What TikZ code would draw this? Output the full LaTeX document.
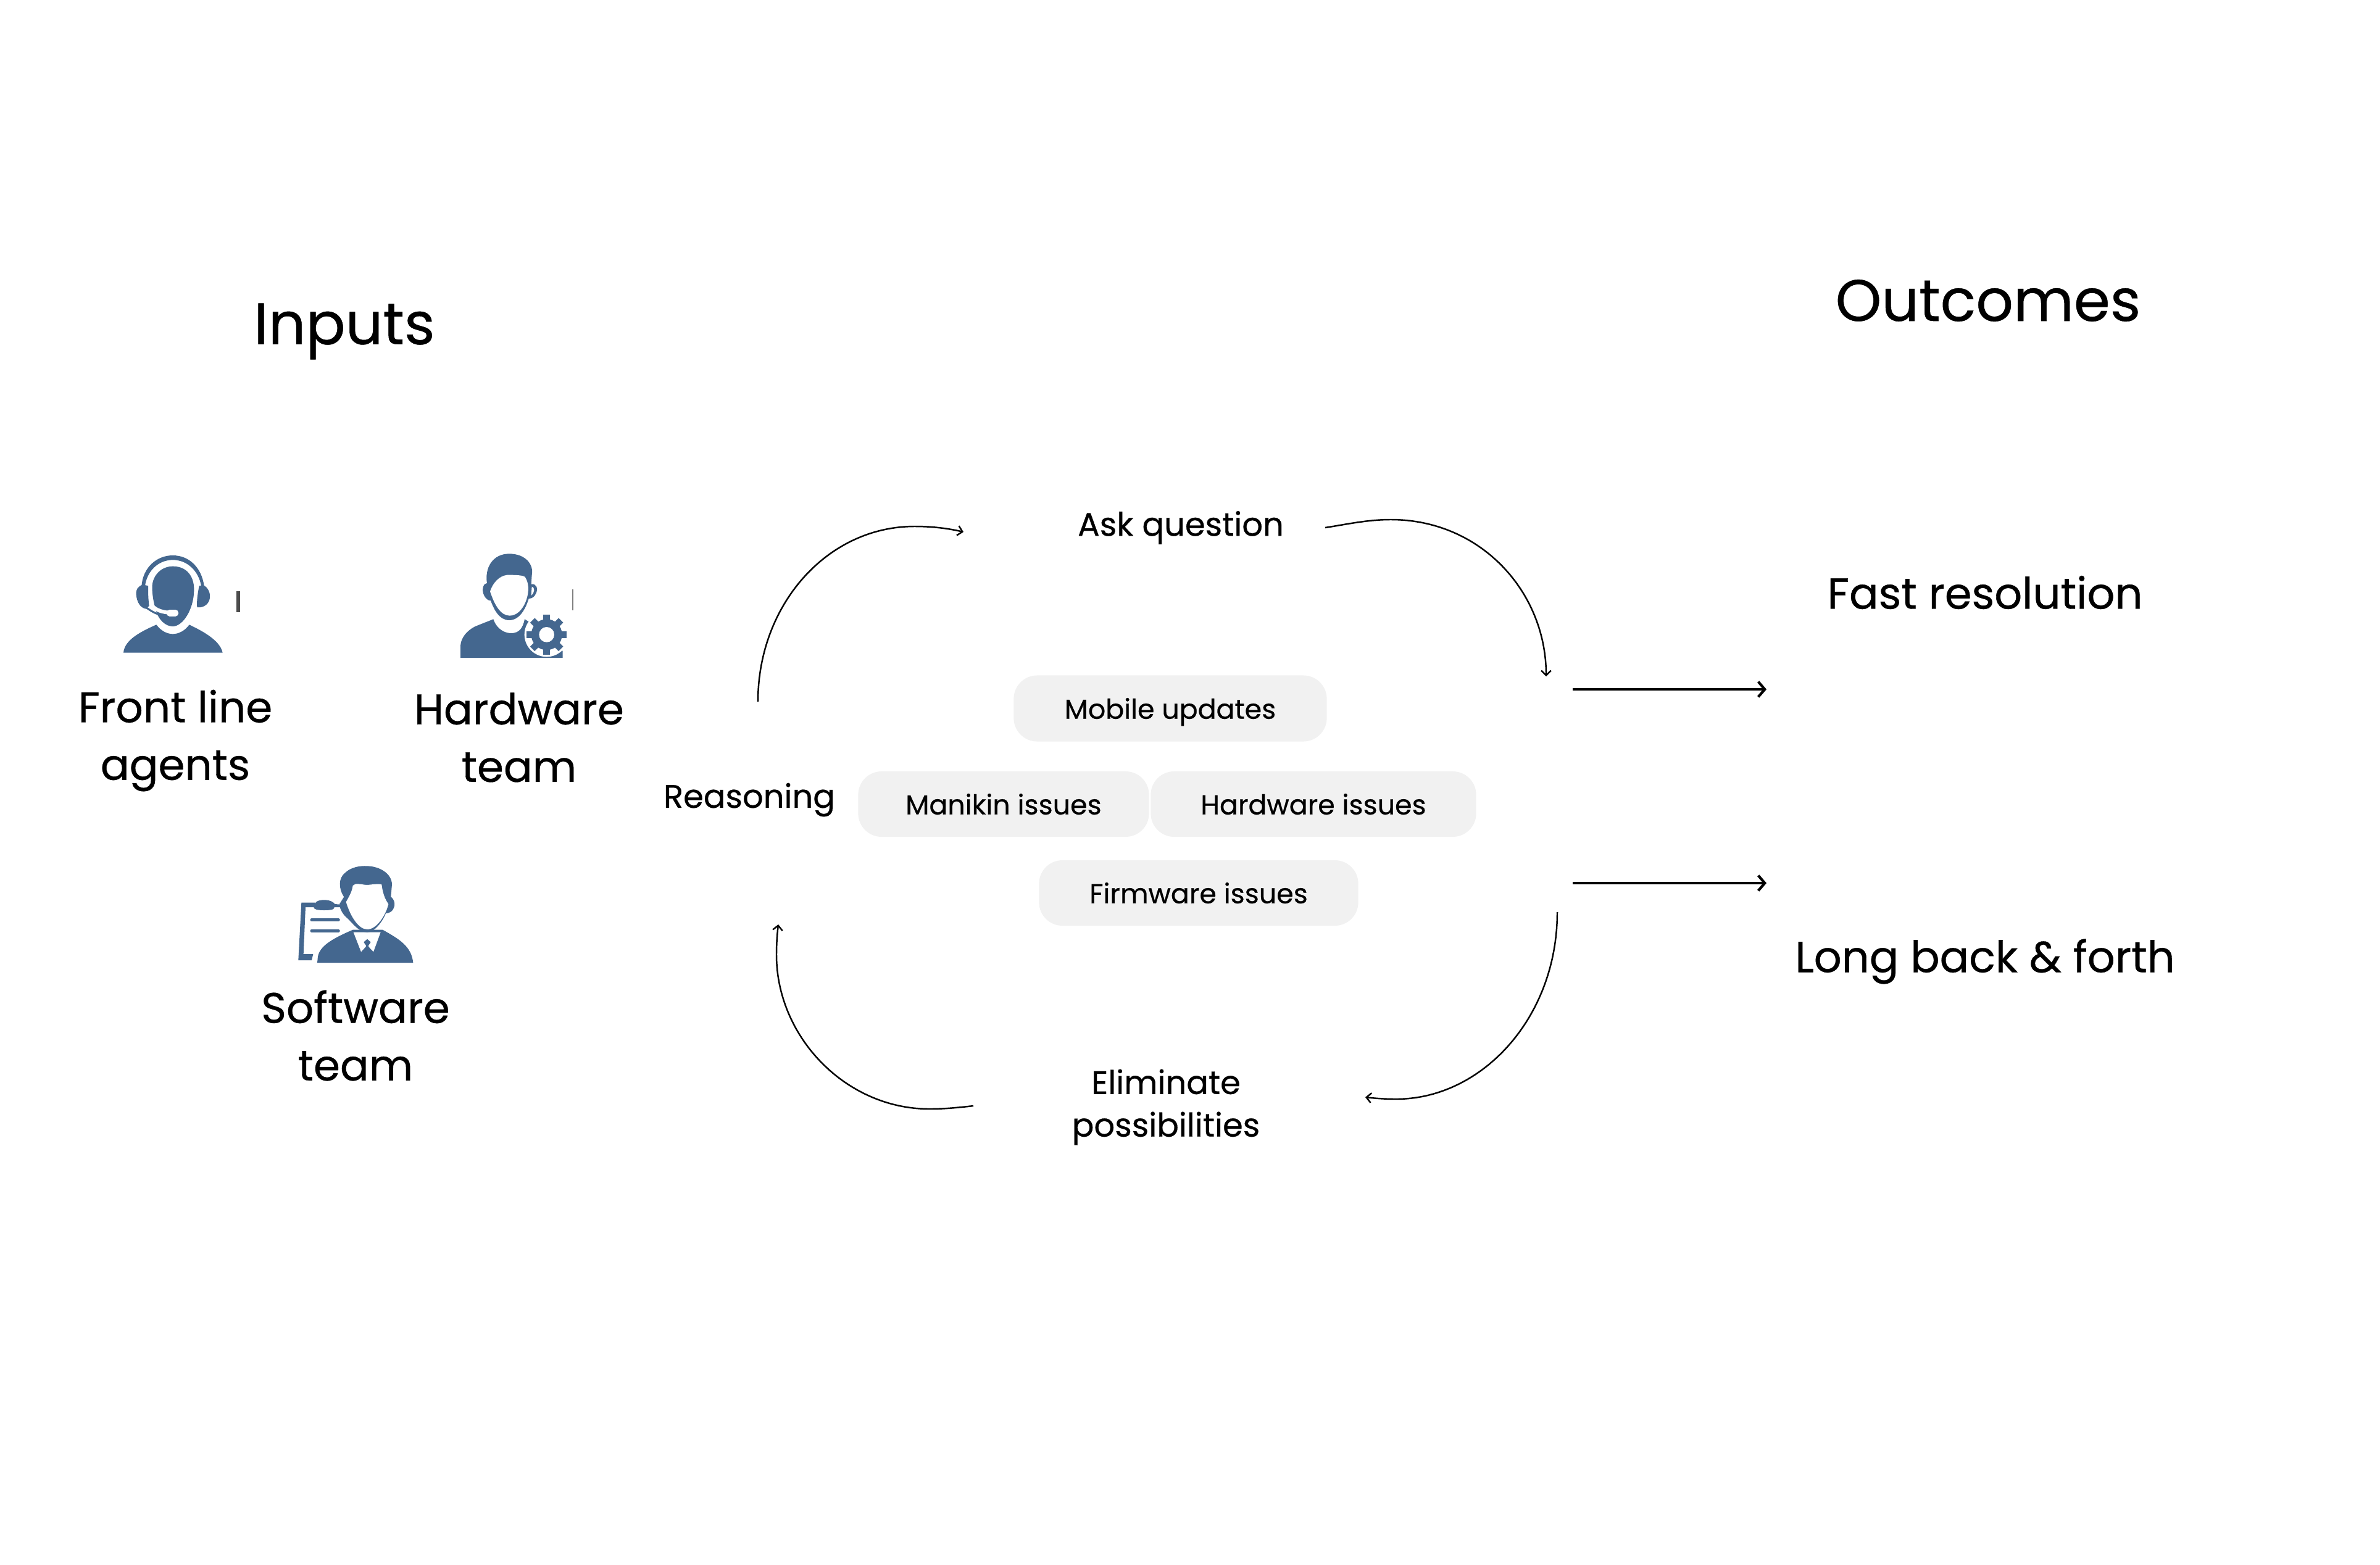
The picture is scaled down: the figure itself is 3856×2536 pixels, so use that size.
\documentclass[tikz,border=0pt]{standalone}
\usepackage{fontspec}
\setmainfont{Poppins}[FakeBold=0.5]
\usetikzlibrary{arrows.meta}
\definecolor{iconblue}{HTML}{44678F}
\definecolor{chipgrey}{HTML}{F1F1F1}
\newcommand{\gearteeth}{%
  \foreach \ang in {0,45,...,315} {\draw[iconblue,line width=3pt] (437,415) -- ++(\ang:98);}
}
\tikzset{
  headtext/.style={font=\fontsize{27}{33}\selectfont},
  roletext/.style={align=center,font=\fontsize{19.7}{26.5}\selectfont},
  resulttext/.style={font=\fontsize{20}{26}\selectfont},
  looptext/.style={align=center,font=\fontsize{15}{19.6}\selectfont},
  chipbox/.style={fill=chipgrey,rounded corners=10.8pt,inner sep=0pt,text height=10.5pt,text depth=1pt,font=\fontsize{12.6}{16}\selectfont},
  looparc/.style={line width=0.7pt,-{Straight Barb[length=2.2pt,width=4.5pt]}},
  flowarrow/.style={line width=1.2pt,-{Straight Barb[length=3pt,width=7pt]}},
  iconpart/.style={fill=iconblue,draw=none},
  iconcut/.style={fill=white,draw=none},
}
\begin{document}
\begin{tikzpicture}[x=0.01cm,y=-0.01cm]
  \useasboundingbox (0,0) rectangle (3856,2536);
  % headings
  \node[headtext] (inputs) at (558,537) {Inputs};
  \node[headtext] (outcomes) at (3221,487) {Outcomes};
  \node[resulttext] (fast) at (3216,960) {Fast resolution};
  \node[resulttext] (longback) at (3216,1558) {Long back \& forth};
  % roles
  \node[roletext] (frontline) at (284,1200) {Front line\\agents};
  \node[roletext] (hardware) at (841,1195) {Hardware\\team};
  \node[roletext] (software) at (576,1678) {Software\\team};
  % loop labels
  \node[looptext] (reasoning) at (1214,1296) {Reasoning};
  \node[looptext] (ask) at (1913,855) {Ask question};
  \node[looptext] (eliminate) at (1889,1794) {Eliminate\\possibilities};
  % chips
  \node[chipbox,minimum width=5.07cm,minimum height=1.07cm] (mobile) at (1896,1148) {Mobile updates};
  \node[chipbox,minimum width=4.71cm,minimum height=1.06cm] (manikin) at (1626,1303) {Manikin issues};
  \node[chipbox,minimum width=5.27cm,minimum height=1.06cm] (hardwareissues) at (2128,1303) {Hardware issues};
  \node[chipbox,minimum width=5.17cm,minimum height=1.06cm] (firmware) at (1942,1447) {Firmware issues};
  % loop arcs
  \coordinate (arcAa) at (1228,1137);
  \coordinate (arcAb) at (1561,862);
  \coordinate (arcBa) at (2147,855);
  \coordinate (arcBb) at (2505,1096);
  \coordinate (arcCa) at (2523,1478);
  \coordinate (arcCb) at (2212,1778);
  \coordinate (arcDa) at (1577,1792);
  \coordinate (arcDb) at (1261,1498);
  \draw[looparc] (arcAa) .. controls (1228,980) and (1340,853) .. (1482,853) .. controls (1510,853) and (1535,856) .. (arcAb);
  \draw[looparc] (arcBa) .. controls (2180,850) and (2215,842) .. (2253,842) .. controls (2400,842) and (2505,960) .. (arcBb);
  \draw[looparc] (arcCa) .. controls (2523,1650) and (2400,1781) .. (2262,1781) .. controls (2245,1781) and (2230,1780) .. (arcCb);
  \draw[looparc] (arcDa) .. controls (1550,1795) and (1530,1797) .. (1506,1797) .. controls (1370,1797) and (1258,1680) .. (1258,1547) .. controls (1258,1530) and (1259,1515) .. (arcDb);
  % outcome arrows
  \coordinate (flowAa) at (2548,1117);
  \coordinate (flowAb) at (2862,1117);
  \coordinate (flowBa) at (2548,1431);
  \coordinate (flowBb) at (2862,1431);
  \draw[flowarrow] (flowAa) -- (flowAb);
  \draw[flowarrow] (flowBa) -- (flowBb);
  % headset icon
  \begin{scope}[shift={(190,890)},scale=1/3]
    \path[iconpart] (30,503) .. controls (35,450) and (90,410) .. (190,367) .. controls (215,400) and (245,412) .. (270,412) .. controls (300,412) and (330,395) .. (350,367) .. controls (420,400) and (500,445) .. (512,503) -- cycle;
    \path[iconpart] (270,83) .. controls (340,83) and (375,135) .. (373,200) .. controls (372,290) and (320,375) .. (270,375) .. controls (235,375) and (200,345) .. (185,290) .. controls (175,250) and (168,210) .. (170,175) .. controls (175,125) and (215,83) .. (270,83) -- cycle;
    \path[iconpart] (118,178) .. controls (125,90) and (190,30) .. (270,30) .. controls (350,30) and (410,90) .. (422,178) -- (408,178) .. controls (395,105) and (340,52) .. (270,52) .. controls (200,52) and (145,105) .. (135,178) -- cycle;
    \path[iconpart] (125,172) .. controls (100,180) and (90,195) .. (92,220) .. controls (95,255) and (110,285) .. (140,290) -- (155,275) .. controls (150,240) and (150,205) .. (150,178) -- cycle;
    \path[iconpart] (398,178) -- (420,175) .. controls (445,190) and (452,215) .. (450,235) .. controls (448,265) and (420,287) .. (388,282) .. controls (385,250) and (392,210) .. (398,178) -- cycle;
    \draw[white,line width=1.7pt] (165,270) .. controls (185,295) and (215,305) .. (250,308);
    \draw[iconblue,line width=0.85pt] (140,283) .. controls (170,305) and (200,322) .. (245,325);
    \draw[white,line width=3pt,line cap=round] (255,310) -- (282,310);
    \path[fill=black!70] (578,205) rectangle (596,305);
  \end{scope}
  % engineer icon
  \begin{scope}[shift={(740,890)},scale=1/3]
    \path[iconpart] (18,528) -- (18,470) .. controls (20,430) and (50,395) .. (90,375) -- (178,340) .. controls (195,390) and (235,410) .. (270,408) .. controls (300,405) and (320,390) .. (330,340) -- (355,355) -- (515,495) -- (515,528) -- cycle;
    \path[iconcut] (437,415) circle (108);
    \gearteeth
    \path[iconpart] (437,415) circle (75);
    \path[iconcut] (437,415) circle (37);
    \path[iconpart] (147,165) .. controls (135,90) and (175,22) .. (255,22) .. controls (335,22) and (375,75) .. (365,125) -- (362,170) .. controls (385,165) and (398,190) .. (385,215) .. controls (378,232) and (365,240) .. (350,240) .. controls (335,290) and (305,345) .. (255,345) .. controls (205,345) and (180,290) .. (165,250) .. controls (140,250) and (120,210) .. (128,185) .. controls (132,170) and (140,165) .. (147,165) -- cycle;
    \path[iconcut] (162,205) .. controls (175,165) and (205,130) .. (245,125) .. controls (280,125) and (320,125) .. (332,135) .. controls (345,155) and (352,185) .. (345,220) .. controls (335,275) and (300,323) .. (258,323) .. controls (215,323) and (185,275) .. (162,205) -- cycle;
    \path[iconcut] (365,182) .. controls (380,185) and (380,210) .. (362,225) -- cycle;
    \path[fill=gray] (562,195) rectangle (568,298);
  \end{scope}
  % clipboard icon
  \begin{scope}[shift={(470,1390)},scale=1/3]
    \path[iconpart] (120,218) -- (55,218) -- (40,498) -- (105,498) -- (112,468) -- (65,468) -- (75,240) -- (120,240) -- cycle;
    \path[iconpart] (115,240) .. controls (115,215) and (135,205) .. (165,205) .. controls (195,205) and (210,215) .. (218,225) -- (255,228) -- (250,240) -- (215,240) .. controls (215,250) and (205,255) .. (165,255) .. controls (130,255) and (115,250) .. (115,240) -- cycle;
    \draw[iconblue,line width=1.4pt,line cap=round] (105,302) -- (235,302);
    \draw[iconblue,line width=1.4pt,line cap=round] (105,355) -- (235,355);
    \path[iconpart] (132,510) -- (135,480) .. controls (145,430) and (200,395) .. (305,350) -- (450,350) .. controls (530,395) and (590,430) .. (598,510) -- cycle;
    \path[iconcut] (308,362) -- (345,457) -- (375,425) -- (405,457) -- (440,362) -- cycle;
    \path[iconpart] (375,395) -- (392,410) -- (380,428) -- (395,462) -- (355,462) -- (370,428) -- (358,410) -- cycle;
    \path[iconpart] (262,190) .. controls (235,150) and (235,100) .. (265,75) .. controls (295,45) and (340,38) .. (375,40) .. controls (440,42) and (495,80) .. (495,130) -- (490,190) .. controls (510,205) and (515,235) .. (495,258) .. controls (485,268) and (470,270) .. (465,270) .. controls (450,310) and (410,362) .. (375,362) .. controls (335,362) and (305,320) .. (280,295) .. controls (260,280) and (240,250) .. (240,225) -- cycle;
    \path[iconcut] (272,215) .. controls (285,190) and (300,170) .. (305,135) .. controls (320,120) and (340,130) .. (375,132) .. controls (400,130) and (430,125) .. (445,130) .. controls (450,170) and (460,200) .. (478,225) .. controls (465,280) and (420,348) .. (375,348) .. controls (335,348) and (295,290) .. (272,215) -- cycle;
  \end{scope}
\end{tikzpicture}
\end{document}
